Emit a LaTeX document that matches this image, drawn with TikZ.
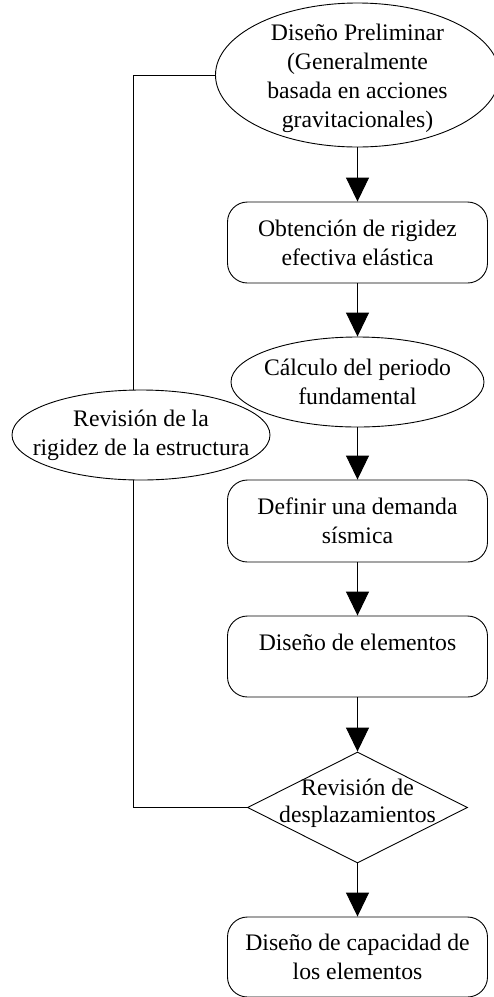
\documentclass[tikz,border=0pt]{standalone}
\usepackage{fontspec}
\setmainfont{Liberation Serif}
\usetikzlibrary{shapes.geometric,arrows.meta}
\begin{document}
\begin{tikzpicture}[x=1pt,y=-1pt,
  font=\fontsize{23.7}{29}\selectfont,
  line width=0.9pt,
  box/.style={draw, rounded corners=20pt, minimum width=260pt, minimum height=81pt, inner sep=0pt, align=center},
  oval/.style={draw, ellipse, inner sep=0pt},
  dmd/.style={draw, diamond, inner sep=0pt},
  flow/.style={-{Triangle[length=24pt,width=23pt]}},
  link/.style={line width=0.9pt}
]
\useasboundingbox (0,0) rectangle (494,997);

\node[oval, minimum width=284pt, minimum height=144pt,
  label={[align=center, yshift=-3.5pt]center:Diseño Preliminar\\(Generalmente\\basada en acciones\\gravitacionales)}] (top) at (357.5,75) {};
\node[box] (r1) at (357.5,242.5) {Obtención de rigidez\\efectiva elástica};
\node[oval, minimum width=253pt, minimum height=90pt,
  label={[align=center]center:Cálculo del periodo\\fundamental}] (e2) at (357.5,382) {};
\node[box, minimum height=82pt] (r3) at (357.5,521) {Definir una demanda\\sísmica};
\node[box] (r4) at (357.5,656.5) {Diseño de elementos\\\mbox{}};
\node[dmd, minimum width=220pt, minimum height=111pt,
  label={[align=center, yshift=4pt, font=\fontsize{23.7}{27}\selectfont]center:Revisión de\\desplazamientos}] (dia) at (357.5,807.5) {};
\node[box, minimum height=80pt] (r5) at (357.5,957) {Diseño de capacidad de\\los elementos};
\node[oval, minimum width=258pt, minimum height=90pt,
  label={[align=center]center:Revisión de la\\rigidez de la estructura}] (lft) at (141,435) {};

\coordinate (lx) at (133.5,0);

\draw[flow] (top.south) -- (r1.north);
\draw[flow] (r1.south) -- (e2.north);
\draw[flow] (e2.south) -- (r3.north);
\draw[flow] (r3.south) -- (r4.north);
\draw[flow] (r4.south) -- (dia.north);
\draw[flow] (dia.south) -- (r5.north);

\draw[link] (dia.west) -- (dia.west -| lx) -- (lft.south -| lx);
\draw[link] (lft.north -| lx) -- (top.west -| lx) -- (top.west);
\end{tikzpicture}
\end{document}
